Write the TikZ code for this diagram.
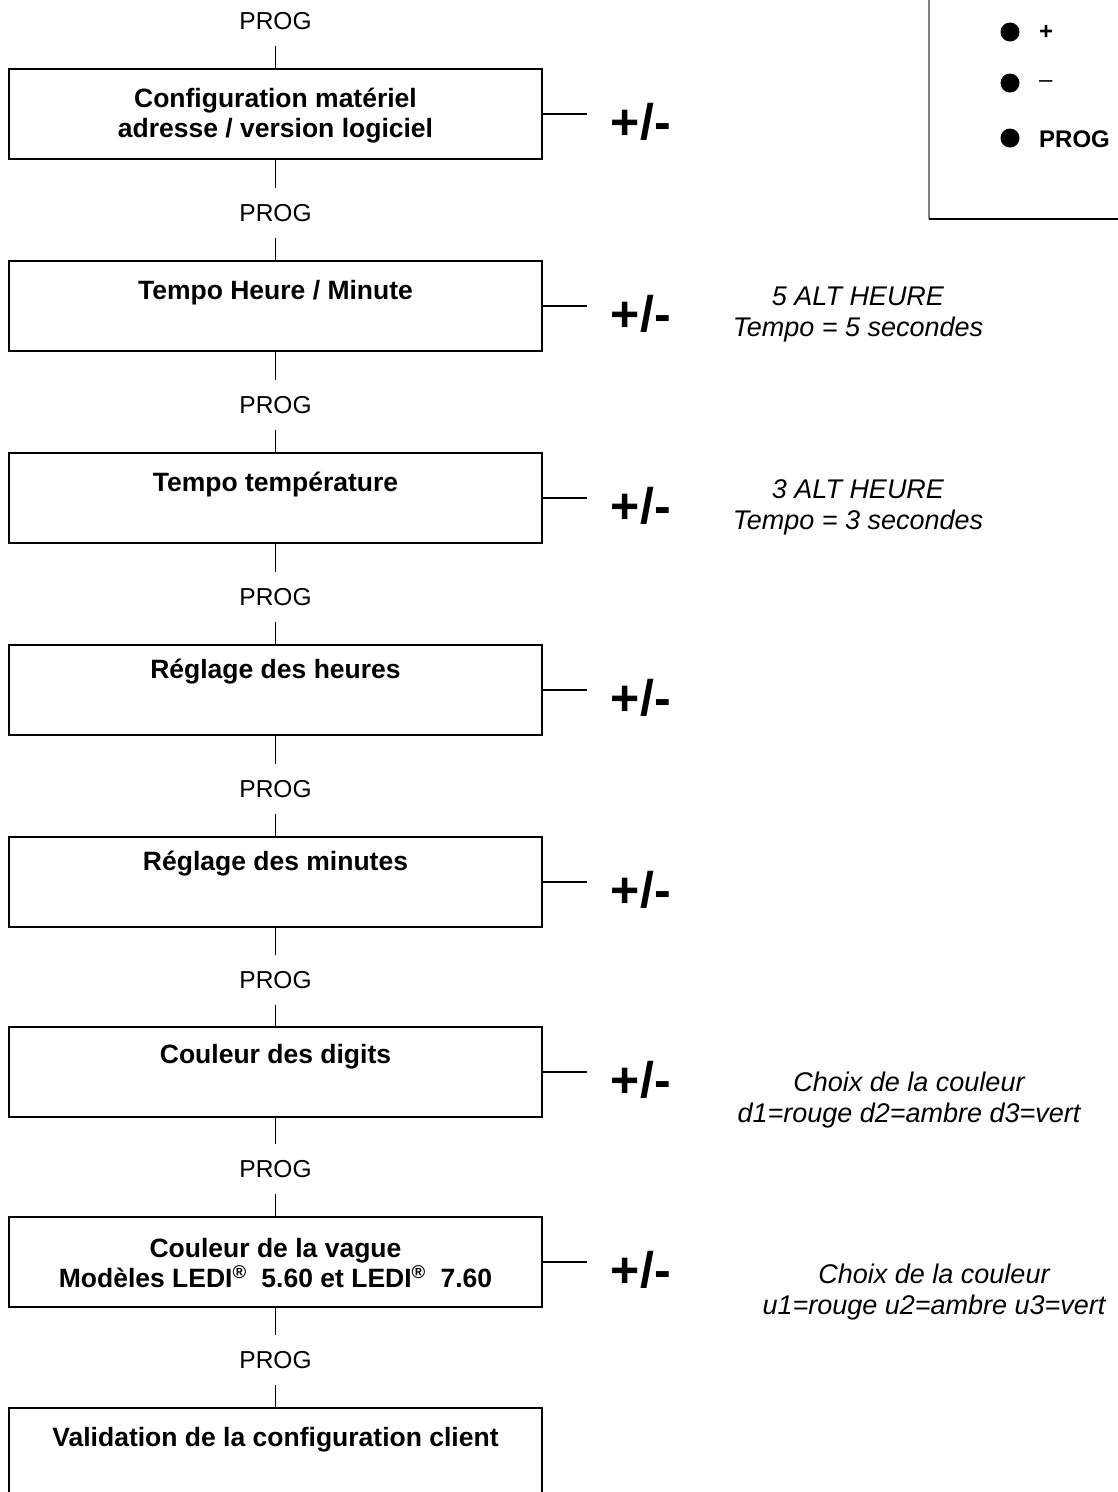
\documentclass[tikz,border=0pt]{standalone}
\usepackage{fontspec}
\setmainfont{Liberation Sans}
\begin{document}
\begin{tikzpicture}[x=1pt,y=-1pt,
  box/.style={draw, line width=1.5pt, minimum width=533pt, minimum height=90pt, inner sep=0pt},
  boxtext/.style={font=\fontsize{26.5}{30}\selectfont\bfseries, align=center, inner sep=0pt},
  prog/.style={font=\fontsize{24.5}{26}\selectfont, minimum height=50pt, inner sep=0pt},
  pm/.style={font=\fontsize{50}{50}\selectfont\bfseries, inner sep=0pt},
  note/.style={font=\fontsize{27}{31}\selectfont\itshape, align=center, inner sep=0pt},
  link/.style={line width=1.1pt},
  dot/.style={circle, fill=black, minimum size=19pt, inner sep=0pt},
  legtext/.style={anchor=west, font=\fontsize{24}{26}\selectfont, inner sep=0pt}]
\useasboundingbox (0,0) rectangle (1117,1492);

% boxes
\node[box] (b1) at (275.5,114) {};
\node[box] (b2) at (275.5,306) {};
\node[box] (b3) at (275.5,498) {};
\node[box] (b4) at (275.5,690) {};
\node[box] (b5) at (275.5,882) {};
\node[box] (b6) at (275.5,1072) {};
\node[box] (b7) at (275.5,1262) {};
\node[box, minimum height=100pt] (b8) at (275.5,1458) {};

% box texts
\node[boxtext] (t1) at (275.5,116) {Configuration matériel\\adresse / version logiciel};
\node[boxtext] (t2) at (275.5,293) {Tempo Heure / Minute};
\node[boxtext] (t3) at (275.5,485) {Tempo température};
\node[boxtext] (t4) at (275.5,672) {Réglage des heures};
\node[boxtext] (t5) at (275.5,864) {Réglage des minutes};
\node[boxtext] (t6) at (275.5,1057) {Couleur des digits};
\node[boxtext] (t7) at (275.5,1263) {Couleur de la vague\\Modèles LEDI\textsuperscript{®}\ \ 5.60 et LEDI\textsuperscript{®}\ \ 7.60};
\node[boxtext] (t8) at (275.5,1440) {Validation de la configuration client};

% PROG labels
\node[prog] (p1) at (275.5,21) {PROG};
\node[prog] (p2) at (275.5,213) {PROG};
\node[prog] (p3) at (275.5,405) {PROG};
\node[prog] (p4) at (275.5,597) {PROG};
\node[prog] (p5) at (275.5,789) {PROG};
\node[prog] (p6) at (275.5,980) {PROG};
\node[prog] (p7) at (275.5,1169) {PROG};
\node[prog] (p8) at (275.5,1360) {PROG};

% vertical connectors
\draw[link] (p1.south) -- (b1.north);
\draw[link] (b1.south) -- (p2.north);
\draw[link] (p2.south) -- (b2.north);
\draw[link] (b2.south) -- (p3.north);
\draw[link] (p3.south) -- (b3.north);
\draw[link] (b3.south) -- (p4.north);
\draw[link] (p4.south) -- (b4.north);
\draw[link] (b4.south) -- (p5.north);
\draw[link] (p5.south) -- (b5.north);
\draw[link] (b5.south) -- (p6.north);
\draw[link] (p6.south) -- (b6.north);
\draw[link] (b6.south) -- (p7.north);
\draw[link] (p7.south) -- (b7.north);
\draw[link] (b7.south) -- (p8.north);
\draw[link] (p8.south) -- (b8.north);

% +/- side connectors
\foreach \i in {1,...,7} {
  \coordinate (e\i) at ([xshift=44pt]b\i.east);
  \draw[link] (b\i.east) -- (e\i);
  \node[pm, anchor=west] (pm\i) at ([xshift=24pt,yshift=-8pt]e\i) {+/-};
}

% notes
\node[note] (n2) at (858,315) {5 ALT HEURE\\Tempo = 5 secondes};
\node[note] (n3) at (858,507) {3 ALT HEURE\\Tempo = 3 secondes};
\node[note] (n6) at (909,1100) {Choix de la couleur\\d1=rouge d2=ambre d3=vert};
\node[note] (n7) at (934,1292) {Choix de la couleur\\u1=rouge u2=ambre u3=vert};

% legend
\draw[gray, line width=1.8pt] (929,-5) -- (929,219);
\draw[line width=1.2pt] (929,219) -- (1125,219);
\node[dot] (d1) at (1010,32) {};
\node[dot] (d2) at (1010,83) {};
\node[dot] (d3) at (1010,138) {};
\node[legtext, font=\fontsize{24}{26}\selectfont\bfseries] (l1) at (1039,32) {+};
\node[legtext] (l2) at (1039,84) {–};
\node[legtext, font=\fontsize{24}{26}\selectfont\bfseries] (l3) at (1039,139) {PROG};
\end{tikzpicture}
\end{document}
